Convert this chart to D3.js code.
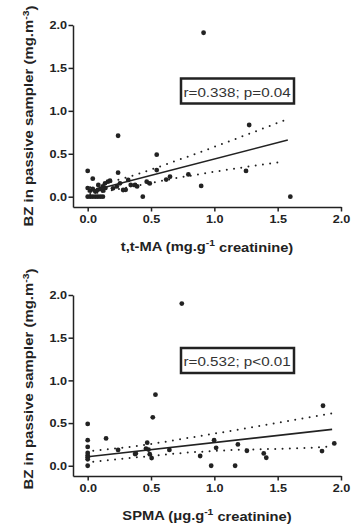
<!DOCTYPE html>
<html>
<head>
<meta charset="utf-8">
<script src="https://cdn.jsdelivr.net/npm/d3@7"></script>
<style>
  body { margin: 0; background: #fff; }
  svg { display: block; font-family: "Liberation Sans", Arial, sans-serif; }
</style>
</head>
<body>
<svg id="chart" width="356" height="525"></svg>
<script>
// values
const tickValues = [0, 0.5, 1.0, 1.5, 2.0];

// panel 1: t,t-MA vs BZ
const ttmaPoints = [
  [0.00, 0.00], [0.02, 0.00], [0.04, 0.00], [0.06, 0.00], [0.08, 0.00], [0.10, 0.00], [0.12, 0.00],
  [0.00, 0.10], [0.02, 0.07], [0.04, 0.09], [0.06, 0.06], [0.08, 0.08], [0.10, 0.09], [0.12, 0.07], [0.14, 0.10],
  [0.00, 0.30], [0.04, 0.21], [0.24, 0.71], [0.24, 0.28], [0.545, 0.49], [0.545, 0.31], [0.435, 0.00],
  [0.915, 1.91], [1.275, 0.835], [0.795, 0.26], [0.896, 0.125], [1.25, 0.30], [1.60, 0.00],
  [0.176, 0.186], [0.137, 0.156], [0.084, 0.136], [0.255, 0.156], [0.28, 0.078], [0.20, 0.097],
  [0.32, 0.195], [0.34, 0.136], [0.374, 0.136], [0.466, 0.175], [0.49, 0.155], [0.62, 0.20],
  [0.65, 0.233], [0.16, 0.175], [0.12, 0.12], [0.23, 0.12], [0.30, 0.08], [0.39, 0.12]
];
const ttmaFit = [[0.0, 0.058], [1.58, 0.66]];
const ttmaUpper = [[0.02, 0.11], [0.32, 0.23], [0.72, 0.43], [1.09, 0.63], [1.57, 0.90]];
const ttmaLower = [[0.02, 0.03], [0.32, 0.11], [0.69, 0.214], [1.0, 0.29], [1.55, 0.41]];

// panel 2: SPMA vs BZ
const spmaPoints = [
  [0.00, 0.49], [0.00, 0.30], [0.00, 0.22], [0.00, 0.15], [0.00, 0.12], [0.00, 0.10], [0.00, 0.075], [0.00, 0.00],
  [0.145, 0.32], [0.24, 0.185], [0.374, 0.137], [0.38, 0.145], [0.47, 0.27], [0.46, 0.20], [0.48, 0.19],
  [0.514, 0.567], [0.535, 0.832], [0.49, 0.135], [0.505, 0.09], [0.645, 0.185], [0.743, 1.90],
  [0.888, 0.114], [0.975, 0.00], [0.998, 0.30], [1.014, 0.21], [1.164, 0.00], [1.186, 0.25],
  [1.257, 0.176], [1.39, 0.145], [1.41, 0.094], [1.858, 0.703], [1.85, 0.172], [1.947, 0.262]
];
const spmaFit = [[0.0, 0.105], [1.93, 0.426]];
const spmaUpper = [[0.044, 0.176], [0.387, 0.23], [0.77, 0.32], [1.93, 0.614]];
const spmaLower = [[0.044, 0.047], [0.387, 0.098], [0.77, 0.152], [1.03, 0.176], [1.876, 0.222], [1.93, 0.23]];

const panels = [
  { top: 25, bottom: 207, ylabMid: 116, points: ttmaPoints, fit: ttmaFit, upper: ttmaUpper, lower: ttmaLower,
    stat: "r=0.338; p=0.04", box: [181, 78.5, 113, 25], xlab: ["t,t-MA (mg.g", "-1", " creatinine)"] },
  { top: 295, bottom: 476, ylabMid: 379, points: spmaPoints, fit: spmaFit, upper: spmaUpper, lower: spmaLower,
    stat: "r=0.532; p<0.01", box: [181, 348, 113, 25], xlab: ["SPMA (\u03bcg.g", "-1", " creatinine)"] }
];

const svg = d3.select("#chart");
const ink = "#222";

const x = d3.scaleLinear().domain([-0.116, 2]).range([73, 341]);

panels.forEach(function (p) {
  const y = d3.scaleLinear().domain([-0.12, 2]).range([p.bottom, p.top]);
  const g = svg.append("g");

  // axes
  const yAxis = g.append("g")
    .attr("transform", `translate(${x.range()[0]},0)`)
    .call(d3.axisLeft(y).tickValues(tickValues).tickFormat(d3.format(".1f"))
      .tickSize(4.5).tickSizeOuter(0).tickPadding(1.5));
  const xAxis = g.append("g")
    .attr("transform", `translate(0,${p.bottom})`)
    .call(d3.axisBottom(x).tickValues(tickValues).tickFormat(d3.format(".1f"))
      .tickSize(4.5).tickSizeOuter(0).tickPadding(3.5));

  [yAxis, xAxis].forEach(function (a) {
    a.select(".domain").attr("stroke", ink).attr("stroke-width", 1.5);
    a.selectAll(".tick line").attr("stroke", ink).attr("stroke-width", 1.5);
    a.selectAll(".tick text")
      .attr("fill", ink)
      .attr("font-size", 11.5)
      .attr("font-weight", "bold")
      .attr("font-family", "Liberation Sans, Arial, sans-serif");
  });
  // the original lettering is a bit wider than Arial
  yAxis.selectAll(".tick text").attr("transform", "scale(1.1,1)").attr("x", -6 / 1.1);
  xAxis.selectAll(".tick text").attr("transform", "scale(1.1,1)");

  // confidence band (dotted)
  const line = d3.line().x(d => x(d[0])).y(d => y(d[1])).curve(d3.curveMonotoneX);
  [p.upper, p.lower].forEach(function (band) {
    g.append("path")
      .attr("d", line(band))
      .attr("fill", "none")
      .attr("stroke", ink)
      .attr("stroke-width", 2)
      .attr("stroke-linecap", "round")
      .attr("stroke-dasharray", "0,7.3");
  });

  // regression line
  g.append("path")
    .attr("d", d3.line().x(d => x(d[0])).y(d => y(d[1]))(p.fit))
    .attr("fill", "none")
    .attr("stroke", ink)
    .attr("stroke-width", 1.6);

  // points
  g.append("g")
    .selectAll("circle")
    .data(p.points)
    .enter()
    .append("circle")
    .attr("cx", d => x(d[0]))
    .attr("cy", d => y(d[1]))
    .attr("r", 2.4)
    .attr("fill", ink);

  // stats box
  g.append("rect")
    .attr("x", p.box[0]).attr("y", p.box[1])
    .attr("width", p.box[2]).attr("height", p.box[3])
    .attr("fill", "#fff")
    .attr("stroke", ink)
    .attr("stroke-width", 2.5);
  g.append("text")
    .attr("transform", `translate(${p.box[0] + 2.5},${p.box[1] + 18}) scale(1.17,1)`)
    .attr("font-size", 13)
    .attr("fill", "#333")
    .text(p.stat);

  // x label
  const xl = g.append("text")
    .attr("transform", `translate(207,${p.bottom + 43.5}) scale(1.13,1)`)
    .attr("text-anchor", "middle")
    .attr("font-size", 13)
    .attr("font-weight", "bold")
    .attr("fill", ink);
  xl.append("tspan").text(p.xlab[0]);
  xl.append("tspan").attr("dy", "-0.45em").attr("font-size", "0.7em").text(p.xlab[1]);
  xl.append("tspan").attr("dy", "0.45em").text(p.xlab[2]);

  // y label
  const yl = g.append("text")
    .attr("transform", `translate(33,${p.ylabMid}) rotate(-90) scale(1.15,1)`)
    .attr("text-anchor", "middle")
    .attr("font-size", 13)
    .attr("font-weight", "bold")
    .attr("fill", ink);
  yl.append("tspan").text("BZ in passive sampler (mg.m");
  yl.append("tspan").attr("dy", "-0.45em").attr("font-size", "0.7em").text("-3");
  yl.append("tspan").attr("dy", "0.45em").text(")");
});
</script>
</body>
</html>
